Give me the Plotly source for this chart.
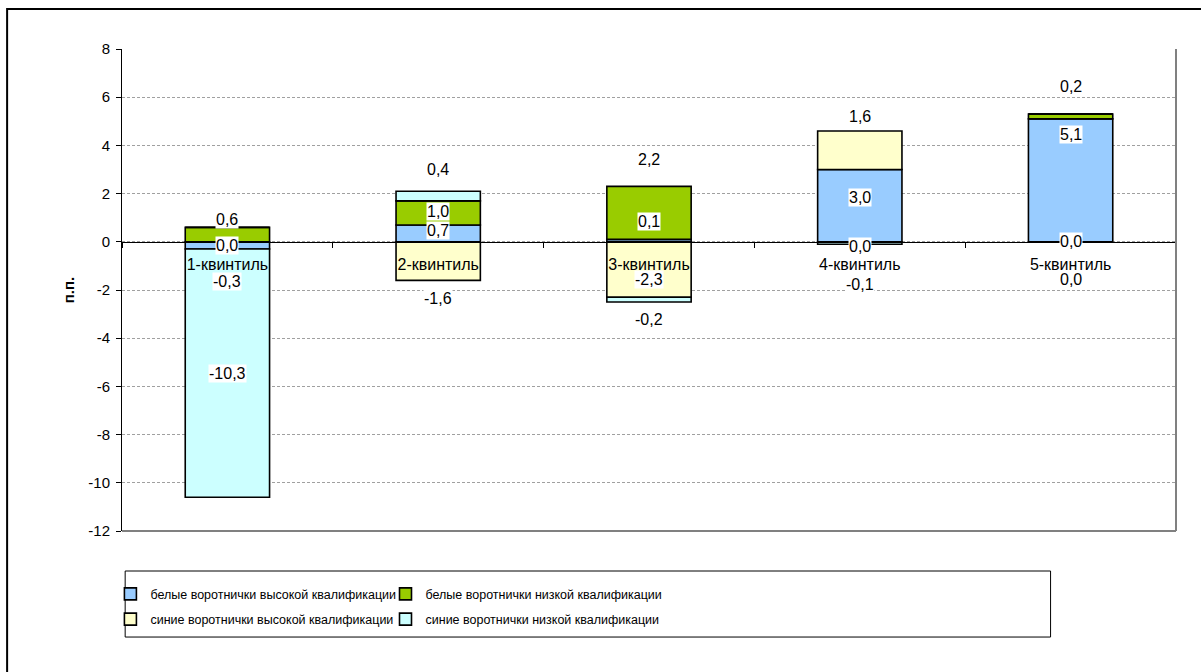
import plotly.graph_objects as go

categories = ["1-квинтиль", "2-квинтиль", "3-квинтиль", "4-квинтиль", "5-квинтиль"]
series_names = [
    "белые воротнички высокой квалификации",
    "белые воротнички низкой квалификации",
    "синие воротнички высокой квалификации",
    "синие воротнички низкой квалификации",
]
white_high = [-0.3, 0.7, 0.1, 3.0, 5.1]
white_low = [0.6, 1.0, 2.2, 0.0, 0.2]
blue_high = [0.0, -1.6, -2.3, 1.6, 0.0]
blue_low = [-10.3, 0.4, -0.2, -0.1, 0.0]
series_values = [white_high, white_low, blue_high, blue_low]
colors = ["#99CCFF", "#99CC00", "#FFFFCC", "#CCFFFF"]
y_tick_vals = [8, 6, 4, 2, 0, -2, -4, -6, -8, -10, -12]
y_tick_text = ["8", "6", "4", "2", "0", "-2", "-4", "-6", "-8", "-10", "-12"]
# manual label displacement (px) as in the original chart
label_shift = [
    [-36, 3, 19, 8, 46],
    [15, 1, 53, -5, 30],
    [-4, -37, -10, 34, 0],
    [0, 27, -20, -41, -38],
]

FONT = "Liberation Sans, Arial, sans-serif"

fig = go.Figure()
for i, (name, vals) in enumerate(zip(series_names, series_values)):
    fig.add_trace(go.Bar(
        x=categories, y=vals, name=name,
        marker=dict(color=colors[i], line=dict(color="black", width=1.6)),
        width=0.4,
        legend="legend" if i in (0, 2) else "legend2",
        legendgroup=f"g{i}",
        hoverinfo="skip",
    ))

# compute stacked segment centres for labels (relative stacking)
pos = [0.0] * len(categories)
neg = [0.0] * len(categories)
annotations = []
for i, vals in enumerate(series_values):
    for j, v in enumerate(vals):
        if v > 0:
            c = pos[j] + v / 2
            pos[j] += v
        elif v < 0:
            c = neg[j] + v / 2
            neg[j] += v
        else:
            c = 0.0
        annotations.append(dict(
            x=categories[j], y=c, xref="x", yref="y",
            text=f"{v:.1f}".replace(".", ","),
            showarrow=False, yshift=label_shift[i][j],
            bgcolor="white", borderpad=0,
            font=dict(family=FONT, size=16, color="black"),
        ))

shapes = [
    # outer frame
    dict(type="rect", xref="paper", yref="paper", x0=-0.109, x1=1.3, y0=-0.6, y1=1.083,
         line=dict(color="black", width=2), layer="below"),
    # plot area right/bottom border
    dict(type="line", xref="paper", yref="paper", x0=1, x1=1, y0=0, y1=1,
         line=dict(color="#808080", width=2)),
    dict(type="line", xref="paper", yref="paper", x0=0, x1=1, y0=0, y1=0,
         line=dict(color="#808080", width=2)),
    # legend box
    dict(type="rect", xref="paper", yref="paper", x0=0.003, x1=0.881, y0=-0.22, y1=-0.083,
         line=dict(color="black", width=1)),
]

fig.update_layout(
    width=1201, height=672,
    margin=dict(l=122, r=25, t=49, b=141),
    paper_bgcolor="white", plot_bgcolor="white",
    barmode="relative",
    bargap=0.6,
    font=dict(family=FONT, size=15, color="black"),
    xaxis=dict(
        anchor="free", position=0.6,
        showline=True, linecolor="black", linewidth=1,
        ticks="outside", ticklen=5, tickcolor="black", tickson="boundaries",
        tickfont=dict(size=16), showgrid=False, zeroline=False,
        ticklabelstandoff=8,
    ),
    yaxis=dict(
        range=[-12, 8], tickvals=y_tick_vals, ticktext=y_tick_text,
        showline=True, linecolor="black", linewidth=1,
        ticks="outside", ticklen=5, tickcolor="black",
        showgrid=True, gridcolor="#a0a0a0", griddash="3px,2px", gridwidth=1,
        zeroline=False, ticklabelstandoff=3,
        tickfont=dict(size=15),
        title=dict(text="<b>п.п.</b>", font=dict(size=15), standoff=10),
    ),
    showlegend=True,
    legend=dict(x=-0.011, y=-0.1, xanchor="left", yanchor="top",
                orientation="v", tracegroupgap=6, traceorder="grouped",
                font=dict(size=12.5), bgcolor="rgba(0,0,0,0)"),
    legend2=dict(x=0.25, y=-0.1, xanchor="left", yanchor="top",
                 orientation="v", tracegroupgap=6, traceorder="grouped",
                 font=dict(size=12.5), bgcolor="rgba(0,0,0,0)"),
    annotations=annotations,
    shapes=shapes,
)

fig.write_html("out.html")
